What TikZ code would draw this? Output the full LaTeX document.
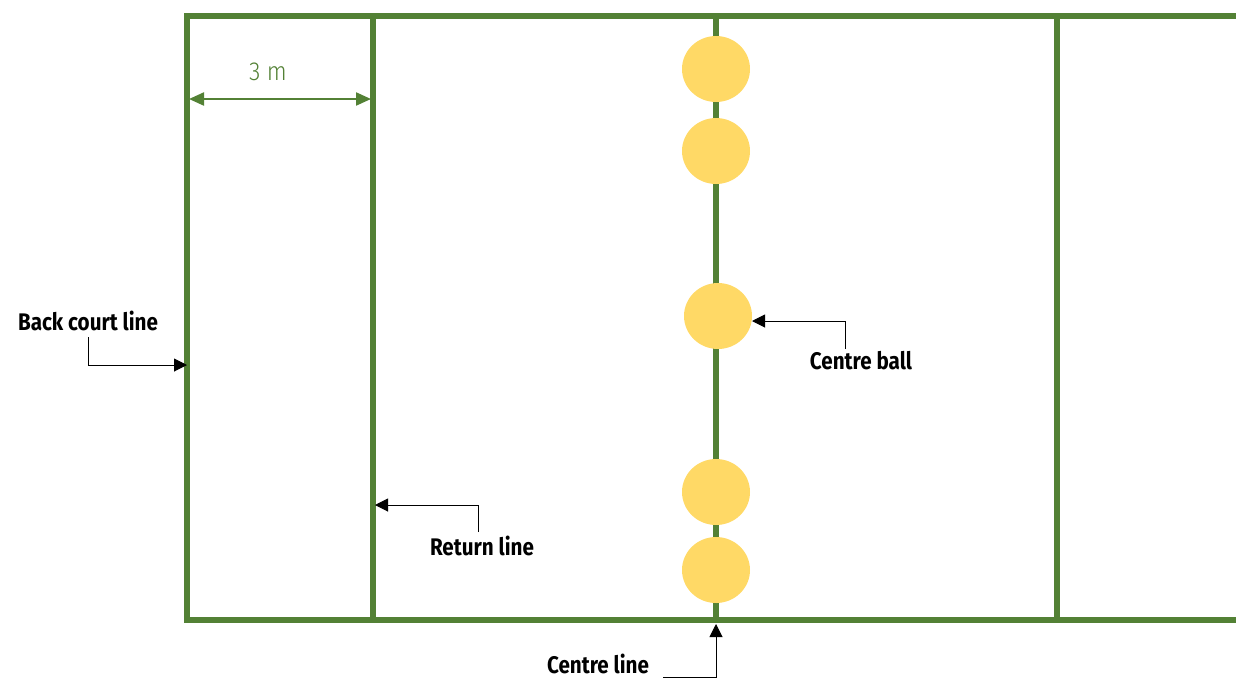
\documentclass[tikz,border=0pt]{standalone}
\usepackage{fontspec}
\setmainfont{Fira Sans}
\newfontfamily\measurefont{Fira Sans Light}
\usetikzlibrary{arrows.meta,shapes.geometric}
\definecolor{courtgreen}{HTML}{538135}
\definecolor{ballyellow}{HTML}{FFD966}
\tikzset{
  courtline/.style={draw=courtgreen, line width=5.5pt},
  ball/.style={ellipse, fill=ballyellow, minimum width=68pt, minimum height=66pt, inner sep=0pt},
  label/.style={font=\fontsize{24}{26}\selectfont\bfseries, text=black, inner sep=0pt},
  pointer/.style={draw=black, line width=1pt, -{Triangle[length=13pt,width=13pt]}},
  measure/.style={draw=courtgreen, line width=2.2pt, {Triangle[length=15pt,width=13pt]}-{Triangle[length=15pt,width=13pt]}},
}
\begin{document}
\begin{tikzpicture}[x=1pt,y=-1pt]
\useasboundingbox (0,0) rectangle (1236,678);
% court lines
\coordinate (tl) at (187,16);
\coordinate (bl) at (187,620);
\coordinate (rt) at (373,16);
\coordinate (rb) at (373,620);
\coordinate (ct) at (716,16);
\coordinate (cb) at (716,620);
\coordinate (ft) at (1057,16);
\coordinate (fb) at (1057,620);
\coordinate (et) at (1240,16);
\coordinate (eb) at (1240,620);
\draw[courtline] (et) -- (tl) -- (bl) -- (eb);
\draw[courtline] (rt) -- (rb);
\draw[courtline] (ct) -- (cb);
\draw[courtline] (ft) -- (fb);
% balls along the centre line
\node[ball] (b1) at (716,69) {};
\node[ball] (b2) at (716,151) {};
\node[ball] (b3) at (718,316) {};
\node[ball] (b4) at (716,492) {};
\node[ball] (b5) at (716,570) {};
% width of the back zone
\coordinate (m1) at (189,99);
\coordinate (m2) at (371,99);
\draw[measure] (m1) -- (m2);
\node[font=\fontsize{26}{28}\measurefont, text=courtgreen, inner sep=0pt] (mlabel) at (268,72) {\scalebox{0.9}[1]{3 m}};
% labels and pointers
\node[label] (back) at (88,321) {\scalebox{0.86}[1]{Back court line}};
\coordinate (backturn) at (88,365);
\coordinate (backend) at (187,365);
\draw[pointer] (88,337) -- (backturn) -- (backend);

\node[label] (cball) at (861,361) {\scalebox{0.86}[1]{Centre ball}};
\coordinate (cballturn) at (845,321);
\coordinate (cballend) at (752,321);
\draw[pointer] (845,349) -- (cballturn) -- (cballend);

\node[label] (ret) at (482,546) {\scalebox{0.86}[1]{Return line}};
\coordinate (retturn) at (478,505);
\coordinate (retend) at (375,505);
\draw[pointer] (478,532) -- (retturn) -- (retend);

\node[label] (cline) at (598,664) {\scalebox{0.86}[1]{Centre line}};
\coordinate (clstart) at (663,677);
\coordinate (clturn) at (716,677);
\coordinate (clend) at (716,624);
\draw[pointer] (clstart) -- (clturn) -- (clend);
\end{tikzpicture}
\end{document}
